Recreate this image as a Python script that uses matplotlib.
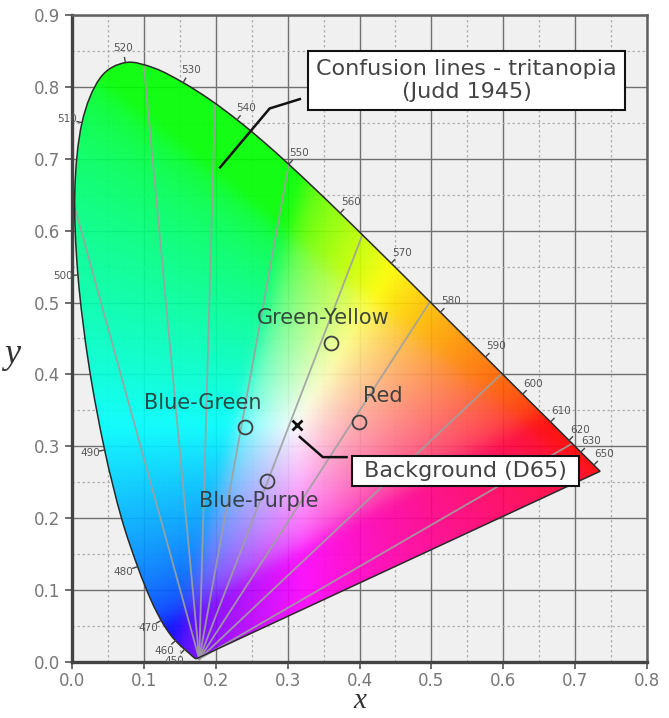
import numpy as np
import matplotlib
matplotlib.use("Agg")
import matplotlib.pyplot as plt
from matplotlib.patches import PathPatch
from matplotlib.path import Path

# CIE 1931 2 deg spectral locus, 5 nm steps 380-700
wl = list(range(380, 705, 5))
loc_x = [0.1741, 0.1740, 0.1738, 0.1736, 0.1733, 0.1730, 0.1726, 0.1721, 0.1714, 0.1703,
         0.1689, 0.1669, 0.1644, 0.1611, 0.1566, 0.1510, 0.1440, 0.1355, 0.1241, 0.1096,
         0.0913, 0.0687, 0.0454, 0.0235, 0.0082, 0.0039, 0.0139, 0.0389, 0.0743, 0.1142,
         0.1547, 0.1929, 0.2296, 0.2658, 0.3016, 0.3373, 0.3731, 0.4087, 0.4441, 0.4788,
         0.5125, 0.5448, 0.5752, 0.6029, 0.6270, 0.6482, 0.6658, 0.6801, 0.6915, 0.7006,
         0.7079, 0.7140, 0.7190, 0.7230, 0.7260, 0.7283, 0.7300, 0.7311, 0.7320, 0.7327,
         0.7334, 0.7340, 0.7344, 0.7346, 0.7347]
loc_y = [0.0050, 0.0050, 0.0049, 0.0049, 0.0048, 0.0048, 0.0048, 0.0048, 0.0051, 0.0058,
         0.0069, 0.0086, 0.0109, 0.0138, 0.0177, 0.0227, 0.0297, 0.0399, 0.0578, 0.0868,
         0.1327, 0.2007, 0.2950, 0.4127, 0.5384, 0.6548, 0.7502, 0.8120, 0.8338, 0.8262,
         0.8059, 0.7816, 0.7543, 0.7243, 0.6923, 0.6589, 0.6245, 0.5896, 0.5547, 0.5202,
         0.4866, 0.4544, 0.4242, 0.3965, 0.3725, 0.3514, 0.3340, 0.3197, 0.3083, 0.2993,
         0.2920, 0.2859, 0.2809, 0.2770, 0.2740, 0.2717, 0.2700, 0.2689, 0.2680, 0.2673,
         0.2666, 0.2660, 0.2656, 0.2654, 0.2653]
wl_labels = [450, 460, 470, 480, 490, 500, 510, 520, 530, 540, 550,
             560, 570, 580, 590, 600, 610, 620, 630, 650]

# tritan confusion lines (copunctal point -> locus)
copunct = (0.177, 0.004)
line_end_x = [0.004, 0.100, 0.199, 0.3016, 0.404, 0.498, 0.598, 0.696]
line_end_y = [0.632, 0.829, 0.777, 0.6923, 0.594, 0.501, 0.401, 0.304]

# sample colours
names = ['Green-Yellow', 'Blue-Green', 'Red', 'Blue-Purple']
pt_x = [0.360, 0.240, 0.399, 0.271]
pt_y = [0.444, 0.327, 0.334, 0.252]
lab_x = [0.349, 0.182, 0.433, 0.260]
lab_y = [0.478, 0.360, 0.370, 0.224]
d65 = (0.3127, 0.3290)

# callouts
conf_text = 'Confusion lines - tritanopia\n(Judd 1945)'
conf_pos = (0.549, 0.809)
conf_lead_x = [0.317, 0.275, 0.206]
conf_lead_y = [0.783, 0.770, 0.688]
bg_text = ' Background (D65) '
bg_pos = (0.547, 0.266)
bg_lead_x = [0.317, 0.349, 0.382]
bg_lead_y = [0.313, 0.285, 0.285]

fig = plt.figure(figsize=(6.69, 7.18), dpi=100)
ax = fig.add_axes([72/669, 56/718, 575/669, 647/718])
ax.set_xlim(0, 0.8)
ax.set_ylim(0, 0.9)
ax.set_facecolor('#f0f0f0')

ax.set_xticks(np.arange(0, 0.81, 0.1))
ax.set_yticks(np.arange(0, 0.91, 0.1))
ax.set_xticks(np.arange(0.05, 0.8, 0.1), minor=True)
ax.set_yticks(np.arange(0.05, 0.9, 0.1), minor=True)
ax.set_axisbelow(True)
ax.grid(which='major', color='#707070', lw=1.0)
ax.grid(which='minor', color='#b0b0b0', lw=0.9, ls=(0, (2, 2)))
ax.tick_params(which='major', direction='out', length=5, width=1.2, color='#555555',
               labelcolor='#777777', labelsize=12)
ax.tick_params(axis='x', which='major', pad=2)
ax.tick_params(which='minor', length=0)
ax.xaxis.set_major_formatter(plt.FormatStrFormatter('%.1f'))
ax.yaxis.set_major_formatter(plt.FormatStrFormatter('%.1f'))
for s in ax.spines.values():
    s.set_color('#606060')
    s.set_linewidth(1.8)
ax.spines['left'].set_color('#444444')
ax.spines['bottom'].set_color('#444444')
ax.spines['left'].set_linewidth(2.4)
ax.spines['bottom'].set_linewidth(2.4)

# colour field: xyY (Y=1) -> linear sRGB, clip, normalise, gamma
gx = np.linspace(0, 0.8, 401)
gy = np.linspace(0.001, 0.9, 451)
GX, GY = np.meshgrid(gx, gy)
XX = GX / GY
ZZ = np.clip(1 - GX - GY, 0, None) / GY
R = 3.2406*XX - 1.5372 - 0.4986*ZZ
G = -0.9689*XX + 1.8758 + 0.0415*ZZ
B = 0.0557*XX - 0.2040 + 1.0570*ZZ
rgb = np.clip(np.stack([R, G, B], axis=2), 0, None)
rgb = rgb / np.maximum(rgb.max(axis=2, keepdims=True), 1e-9)
rgb = rgb ** (1/2.2)
# soften hue edges
k = np.exp(-0.5 * (np.arange(-12, 13) / 4.5) ** 2)
k /= k.sum()
for c in range(3):
    ch = np.pad(rgb[:, :, c], 12, mode='edge')
    ch = np.apply_along_axis(lambda v: np.convolve(v, k, mode='same'), 0, ch)
    ch = np.apply_along_axis(lambda v: np.convolve(v, k, mode='same'), 1, ch)
    rgb[:, :, c] = ch[12:-12, 12:-12]
rgb = np.clip(rgb, 0, 1)

# smooth outline through the locus points (Catmull-Rom as Bezier)
P = np.column_stack([loc_x, loc_y])
verts = [P[0]]
codes = [Path.MOVETO]
n_pts = len(P)
for i in range(n_pts - 1):
    p0 = P[max(i - 1, 0)]
    p1 = P[i]
    p2 = P[i + 1]
    p3 = P[min(i + 2, n_pts - 1)]
    verts += [p1 + (p2 - p0) / 6, p2 - (p3 - p1) / 6, p2]
    codes += [Path.CURVE4] * 3
verts += [P[0], P[0]]
codes += [Path.LINETO, Path.CLOSEPOLY]
locus = PathPatch(Path(verts, codes), fc='none', ec='#2a2a2a', lw=1.1, zorder=3)
ax.add_patch(locus)
im = ax.imshow(rgb, extent=[0, 0.8, 0.001, 0.9], origin='lower', aspect='auto',
               interpolation='bilinear', alpha=0.92, zorder=1)
im.set_clip_path(locus)

# confusion lines
for ex, ey in zip(line_end_x, line_end_y):
    ax.plot([copunct[0], ex], [copunct[1], ey], color='#a0a0a0', lw=1.3,
            alpha=0.9, zorder=2)

# wavelength ticks and labels
lx = np.array(loc_x)
ly = np.array(loc_y)
for w in wl_labels:
    i = wl.index(w)
    tx = lx[i+1] - lx[i-1]
    ty = ly[i+1] - ly[i-1]
    n = np.array([-ty, tx]) / np.hypot(tx, ty)
    px, py = lx[i], ly[i]
    ax.plot([px, px + n[0]*0.007], [py, py + n[1]*0.007], color='#444444', lw=1.0, zorder=3)
    ax.text(px + n[0]*0.021, py + n[1]*0.021, str(w), fontsize=7.5, color='#555555',
            ha='center', va='center', zorder=3)

# sample points
ax.plot(pt_x, pt_y, 'o', ms=10, mfc='none', mec='#404040', mew=1.3, zorder=4)
for nm, tx_, ty_ in zip(names, lab_x, lab_y):
    ax.text(tx_, ty_, nm, fontsize=15, color='#2b3535', alpha=0.9,
            ha='center', va='center', zorder=5)
ax.plot([d65[0]], [d65[1]], 'x', ms=7, mec='#111111', mew=2.0, zorder=5)

# callouts
ax.plot(conf_lead_x, conf_lead_y, color='#111111', lw=1.8, zorder=5)
ax.text(conf_pos[0], conf_pos[1], conf_text, fontsize=16, color='#444444',
        ha='center', va='center', linespacing=1.15, zorder=6,
        bbox=dict(boxstyle='square,pad=0.36', fc='white', ec='#111111', lw=1.5))
ax.plot(bg_lead_x, bg_lead_y, color='#111111', lw=1.8, zorder=5)
ax.text(bg_pos[0], bg_pos[1], bg_text, fontsize=16, color='#444444',
        ha='center', va='center', zorder=6,
        bbox=dict(boxstyle='square,pad=0.22', fc='white', ec='#111111', lw=1.5))

ax.set_xlabel('x', fontsize=21, family='Liberation Serif', style='italic',
              color='#333333', va='center')
ax.xaxis.set_label_coords(0.5, -0.061)
ax.set_ylabel('y', fontsize=26, family='Liberation Serif', style='italic',
              color='#333333', rotation=0, ha='center', va='center')
ax.yaxis.set_label_coords(-0.104, 0.4745)

fig.savefig('out.png', dpi=100, facecolor='white')
